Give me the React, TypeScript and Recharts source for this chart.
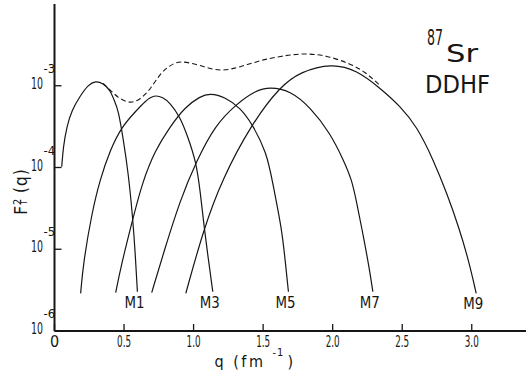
import React from 'react';
import { LineChart, Line, XAxis, YAxis, Label } from 'recharts';

const FONT = '"DejaVu Sans Condensed", "Liberation Sans Narrow", "Liberation Sans", sans-serif';
const INK = '#161616';

const qTicks = [0, 0.5, 1, 1.5, 2, 2.5, 3];
const topTicks = [0.5, 1, 1.5, 2, 2.5, 3];
const leftTicks = [1e-6, 1e-5, 1e-4, 1e-3];
const rightTicks = [1e-5, 1e-4, 1e-3];

// q in fm^-1, log10 of F_T^2(q)
const m1Q = [0.052, 0.063, 0.088, 0.124, 0.183, 0.241, 0.296, 0.349, 0.399, 0.435, 0.459, 0.495, 0.531, 0.563, 0.579, 0.596];
const m1Log = [-3.99, -3.75, -3.50, -3.30, -3.13, -2.99, -2.94, -2.97, -3.05, -3.20, -3.30, -3.66, -4.07, -4.63, -5.01, -5.52];

const m3Q = [0.188, 0.207, 0.268, 0.327, 0.399, 0.483, 0.591, 0.651, 0.715, 0.78, 0.831, 0.903, 0.96, 1.018, 1.047, 1.078, 1.107, 1.138];
const m3Log = [-5.54, -5.17, -4.56, -4.15, -3.79, -3.50, -3.30, -3.19, -3.11, -3.14, -3.21, -3.38, -3.63, -3.93, -4.28, -4.76, -5.13, -5.52];

const m5Q = [0.44, 0.483, 0.563, 0.63, 0.723, 0.831, 0.939, 1.047, 1.119, 1.227, 1.335, 1.419, 1.527, 1.57, 1.635, 1.658, 1.682];
const m5Log = [-5.53, -5.17, -4.63, -4.19, -3.79, -3.50, -3.26, -3.13, -3.09, -3.14, -3.27, -3.46, -3.82, -4.20, -4.76, -5.13, -5.52];

const m7Q = [0.699, 0.783, 0.903, 1.018, 1.155, 1.311, 1.443, 1.55, 1.694, 1.838, 1.982, 2.078, 2.138, 2.174, 2.222, 2.265, 2.289];
const m7Log = [-5.53, -5.05, -4.40, -3.93, -3.48, -3.22, -3.06, -3.015, -3.06, -3.26, -3.58, -3.91, -4.15, -4.44, -4.85, -5.25, -5.52];

const m9Q = [0.944, 1.071, 1.203, 1.419, 1.622, 1.766, 1.994, 2.174, 2.342, 2.486, 2.606, 2.725, 2.822, 2.905, 2.977, 3.032];
const m9Log = [-5.54, -4.76, -4.15, -3.46, -3.01, -2.83, -2.725, -2.81, -3.03, -3.25, -3.50, -3.91, -4.32, -4.72, -5.13, -5.54];

// total (dashed)
const sumQ = [0.349, 0.387, 0.457, 0.543, 0.615, 0.687, 0.759, 0.831, 0.903, 1.047, 1.191, 1.335, 1.479, 1.622, 1.79, 1.958, 2.126, 2.234, 2.342];
const sumLog = [-2.97, -3.03, -3.15, -3.22, -3.17, -3.05, -2.85, -2.75, -2.69, -2.75, -2.83, -2.77, -2.69, -2.64, -2.60, -2.63, -2.73, -2.83, -3.00];

const toPoints = (qs: number[], logs: number[]) => qs.map((q, i) => ({ q, f: Math.pow(10, logs[i]) }));

const multipoles = [
  { name: 'M1', data: toPoints(m1Q, m1Log) },
  { name: 'M3', data: toPoints(m3Q, m3Log) },
  { name: 'M5', data: toPoints(m5Q, m5Log) },
  { name: 'M7', data: toPoints(m7Q, m7Log) },
  { name: 'M9', data: toPoints(m9Q, m9Log) },
];
const sumData = toPoints(sumQ, sumLog);

const txt = { fontFamily: FONT, fill: INK } as const;

const BottomTick = (props: any) => {
  const { x, y, payload } = props;
  const v = payload.value;
  const s = v === 0 ? '0' : v.toFixed(1);
  return (
    <g>
      <line x1={x} x2={x} y1={y} y2={y - 7} stroke={INK} strokeWidth={1.3} />
      <text
        x={x}
        y={y + 16}
        textAnchor="middle"
        fontSize={16}
        textLength={s.length > 1 ? 14 : undefined}
        lengthAdjust="spacingAndGlyphs"
        {...txt}
      >
        {s}
      </text>
    </g>
  );
};

const TopTick = (props: any) => {
  const { x, y } = props;
  return <line x1={x} x2={x} y1={y} y2={y + 7} stroke={INK} strokeWidth={1.3} />;
};

const LeftTick = (props: any) => {
  const { x, y, payload } = props;
  const exp = Math.round(Math.log10(payload.value));
  return (
    <g>
      <line x1={x} x2={x + 7} y1={y} y2={y} stroke={INK} strokeWidth={1.3} />
      <text x={x - 11.5} y={y + 3} textAnchor="end" fontSize={16} textLength={12} lengthAdjust="spacingAndGlyphs" {...txt}>
        10
      </text>
      <text x={x - 11} y={y - 13} textAnchor="start" fontSize={13} {...txt}>{`-${-exp}`}</text>
    </g>
  );
};

const RightTick = (props: any) => {
  const { x, y } = props;
  return <line x1={x - 6} x2={x} y1={y} y2={y} stroke={INK} strokeWidth={1.3} />;
};

const XTitle = (props: any) => {
  const vb = props.viewBox;
  return (
    <g>
      <text x={vb.x + 160} y={vb.y + 36} fontSize={16} letterSpacing={2.5} {...txt}>
        q (fm
      </text>
      <text x={vb.x + 218} y={vb.y + 25} fontSize={11} letterSpacing={1} {...txt}>
        -1
      </text>
      <text x={vb.x + 233} y={vb.y + 36} fontSize={16} {...txt}>
        )
      </text>
    </g>
  );
};

const YTitle = (props: any) => {
  const vb = props.viewBox;
  const cx = vb.x + 26.5;
  const cy = vb.y + 187.5;
  return (
    <text x={cx} y={cy} textAnchor="middle" transform={`rotate(-90 ${cx} ${cy})`} fontSize={17} letterSpacing={1} {...txt}>
      F
      <tspan fontSize={11} dy={-6}>2</tspan>
      <tspan fontSize={9} dx={-7} dy={6}>T</tspan>
      <tspan> (q)</tspan>
    </text>
  );
};

const endLabel = (name: string, last: number) => (props: any) => {
  const { cx, cy, index } = props;
  if (index !== last) return <g key={`d-${name}-${index}`} />;
  return (
    <text
      key={`d-${name}-${index}`}
      x={cx - 3}
      y={cy + 16}
      textAnchor="middle"
      fontSize={16}
      textLength={20}
      lengthAdjust="spacingAndGlyphs"
      {...txt}
    >
      {name}
    </text>
  );
};

export default function App() {
  return (
    <div style={{ position: 'absolute', left: 0, top: 0, width: 526, height: 377, background: '#fff' }}>
      <LineChart width={526} height={377} margin={{ top: 4, right: 0, bottom: 0, left: 0.5 }}>
        <XAxis
          dataKey="q"
          type="number"
          domain={[0, 3.39]}
          ticks={qTicks}
          interval={0}
          allowDataOverflow
          height={46}
          tickSize={0}
          tickMargin={0}
          tickLine={false}
          axisLine={{ stroke: INK, strokeWidth: 2 }}
          tick={<BottomTick />}
        >
          <Label content={XTitle} />
        </XAxis>
        <XAxis
          xAxisId="top"
          orientation="top"
          dataKey="q"
          type="number"
          domain={[0, 3.39]}
          ticks={topTicks}
          interval={0}
          allowDataOverflow
          height={0}
          tickSize={0}
          tickMargin={0}
          tickLine={false}
          axisLine={{ stroke: INK, strokeWidth: 2 }}
          tick={<TopTick />}
        />
        <YAxis
          type="number"
          scale="log"
          domain={[1e-6, 1e-2]}
          ticks={leftTicks}
          interval={0}
          allowDataOverflow
          width={54}
          tickSize={0}
          tickMargin={0}
          tickLine={false}
          axisLine={{ stroke: INK, strokeWidth: 2 }}
          tick={<LeftTick />}
        >
          <Label content={YTitle} />
        </YAxis>
        <YAxis
          yAxisId="right"
          orientation="right"
          type="number"
          scale="log"
          domain={[1e-6, 1e-2]}
          ticks={rightTicks}
          interval={0}
          allowDataOverflow
          width={0}
          tickSize={0}
          tickMargin={0}
          tickLine={false}
          axisLine={{ stroke: INK, strokeWidth: 2 }}
          tick={<RightTick />}
        />
        {multipoles.map((m) => (
          <Line
            key={m.name}
            data={m.data}
            dataKey="f"
            type="basis"
            stroke={INK}
            strokeWidth={1.2}
            dot={endLabel(m.name, m.data.length - 1)}
            activeDot={false}
            isAnimationActive={false}
          />
        ))}
        <Line
          data={sumData}
          dataKey="f"
          type="basis"
          stroke={INK}
          strokeWidth={1.1}
          strokeDasharray="5 3"
          dot={false}
          activeDot={false}
          isAnimationActive={false}
        />
      </LineChart>
      <svg width={526} height={377} style={{ position: 'absolute', left: 0, top: 0, pointerEvents: 'none' }}>
        <text x={427} y={45} fontSize={22} textLength={16} lengthAdjust="spacingAndGlyphs" {...txt}>87</text>
        <text x={446} y={62} fontSize={24} textLength={32} lengthAdjust="spacingAndGlyphs" {...txt}>Sr</text>
        <text x={425} y={93} fontSize={25} textLength={65} lengthAdjust="spacingAndGlyphs" {...txt}>DDHF</text>
      </svg>
    </div>
  );
}
